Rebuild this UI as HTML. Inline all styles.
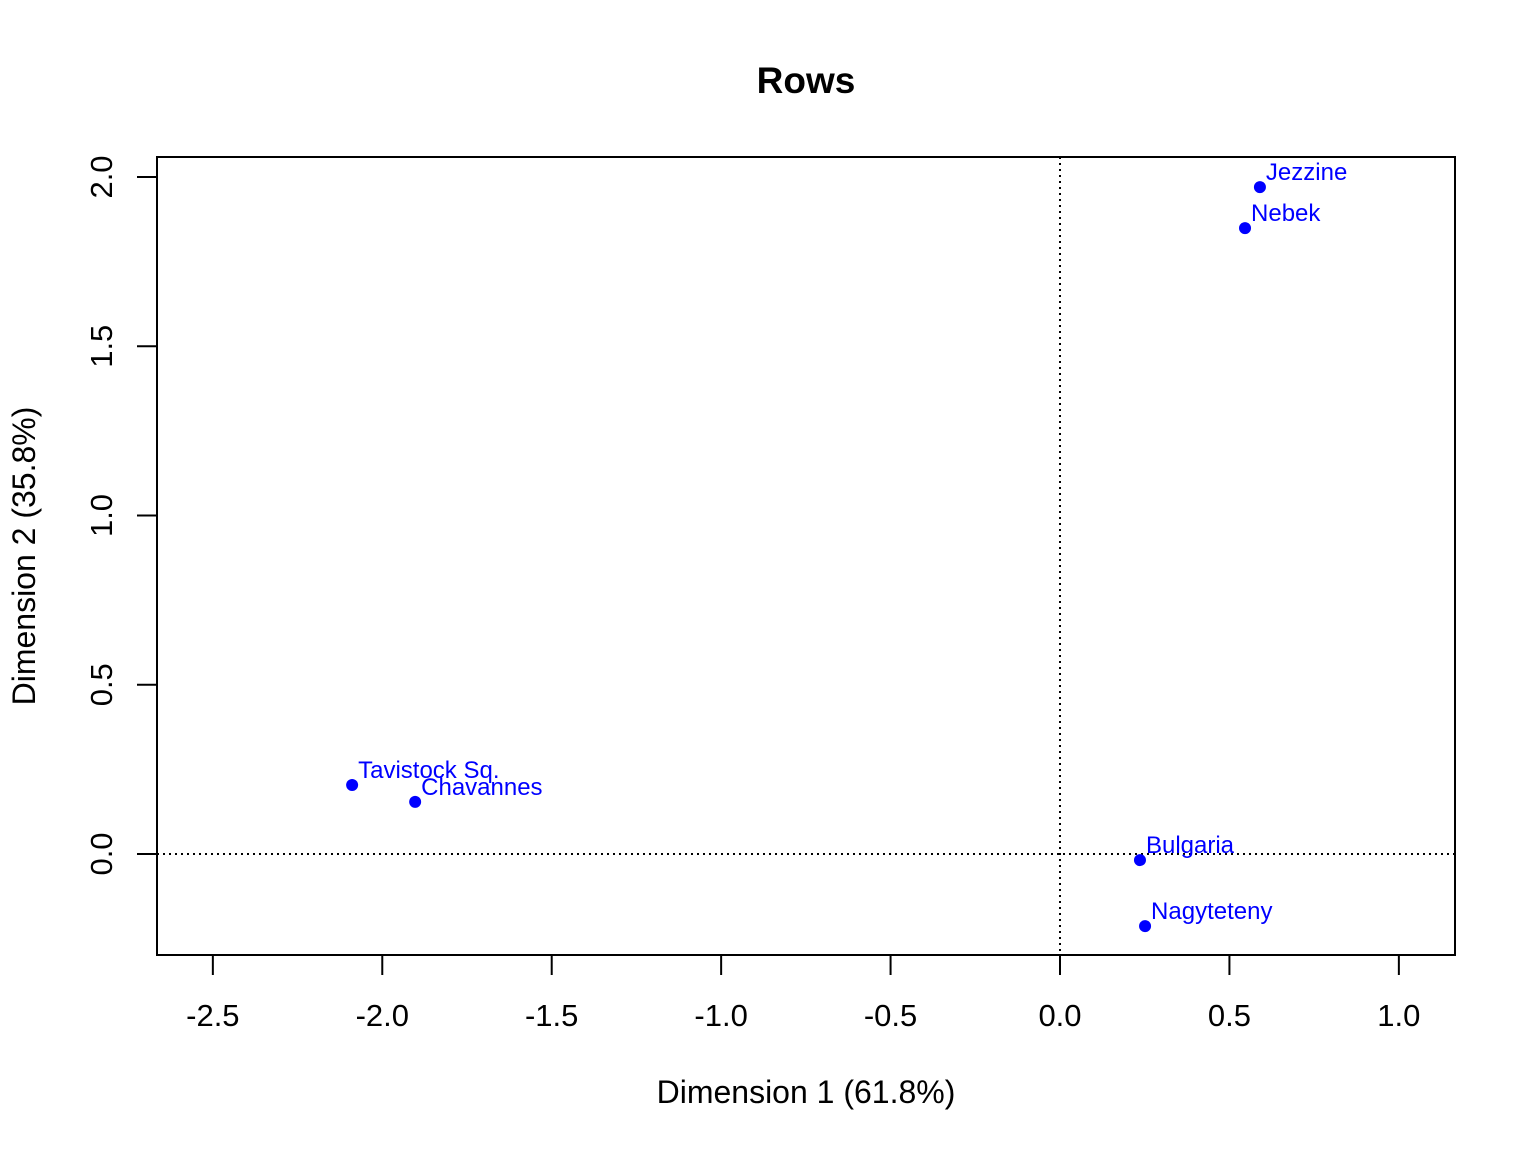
<!DOCTYPE html>
<html><head><meta charset="utf-8"><style>body{margin:0;background:#fff}svg{display:block;font-family:"Liberation Sans",sans-serif}</style></head>
<body>
<svg id="chart" width="1536" height="1152" viewBox="0 0 1536 1152">
<text x="806" y="93" text-anchor="middle" font-size="37" font-weight="bold">Rows</text>
<rect x="157" y="157" width="1298" height="798" fill="none" stroke="#000" stroke-width="2"/>
<g id="xaxis"></g>
<g id="yaxis"></g>
<g id="refs"></g>
<g id="pts"></g>
<text x="806" y="1103" text-anchor="middle" font-size="32">Dimension 1 (61.8%)</text>
<text transform="translate(35,556) rotate(-90)" text-anchor="middle" font-size="32">Dimension 2 (35.8%)</text>
</svg>
<script>
const labels=["Jezzine","Nebek","Tavistock Sq.","Chavannes","Bulgaria","Nagyteteny"];
const dim1=[0.590,0.546,-2.089,-1.903,0.236,0.251];
const dim2=[1.970,1.849,0.204,0.154,-0.018,-0.213];
const xTicks=[-2.5,-2.0,-1.5,-1.0,-0.5,0.0,0.5,1.0];
const yTicks=[0.0,0.5,1.0,1.5,2.0];
const NS="http://www.w3.org/2000/svg";
const sx=v=>1060+v*338.86;
const sy=v=>854-v*338.5;
function mk(t,a,p){const e=document.createElementNS(NS,t);for(const k in a)e.setAttribute(k,a[k]);p.appendChild(e);return e;}
const xa=document.getElementById('xaxis'),ya=document.getElementById('yaxis'),rf=document.getElementById('refs'),pg=document.getElementById('pts');
mk('line',{x1:sx(xTicks[0]),x2:sx(xTicks[xTicks.length-1]),y1:955,y2:955,stroke:'#000','stroke-width':2},xa);
xTicks.forEach(v=>{
 const l=mk('line',{x1:sx(v),x2:sx(v),y1:955,y2:975,stroke:'#000','stroke-width':2},xa);
 
 
 const t=mk('text',{x:sx(v),y:1026,'text-anchor':'middle','font-size':31},xa);
 
 
 t.textContent=v.toFixed(1);
});
mk('line',{x1:157,x2:157,y1:sy(yTicks[0]),y2:sy(yTicks[yTicks.length-1]),stroke:'#000','stroke-width':2},ya);
yTicks.forEach(v=>{
 const l=mk('line',{x1:137,x2:157,y1:sy(v),y2:sy(v),stroke:'#000','stroke-width':2},ya);
 
 
 const t=mk('text',{transform:`translate(112,${sy(v)}) rotate(-90)`,'text-anchor':'middle','font-size':31},ya);
 
 
 t.textContent=v.toFixed(1);
});
const h=mk('line',{x1:157,x2:1455,y1:sy(0),y2:sy(0),stroke:'#000','stroke-width':2,'stroke-dasharray':'2,4'},rf);


const v0=mk('line',{x1:sx(0),x2:sx(0),y1:157,y2:955,stroke:'#000','stroke-width':2,'stroke-dasharray':'2,4'},rf);


labels.forEach((n,i)=>{
 const c=mk('circle',{cx:sx(dim1[i]),cy:sy(dim2[i]),r:6,fill:'#0000ff'},pg);
 
 
 const t=mk('text',{x:sx(dim1[i])+6,y:sy(dim2[i])-7,'font-size':24,fill:'#0000ff'},pg);
 
 
 t.textContent=n;
});
</script>
</body></html>
